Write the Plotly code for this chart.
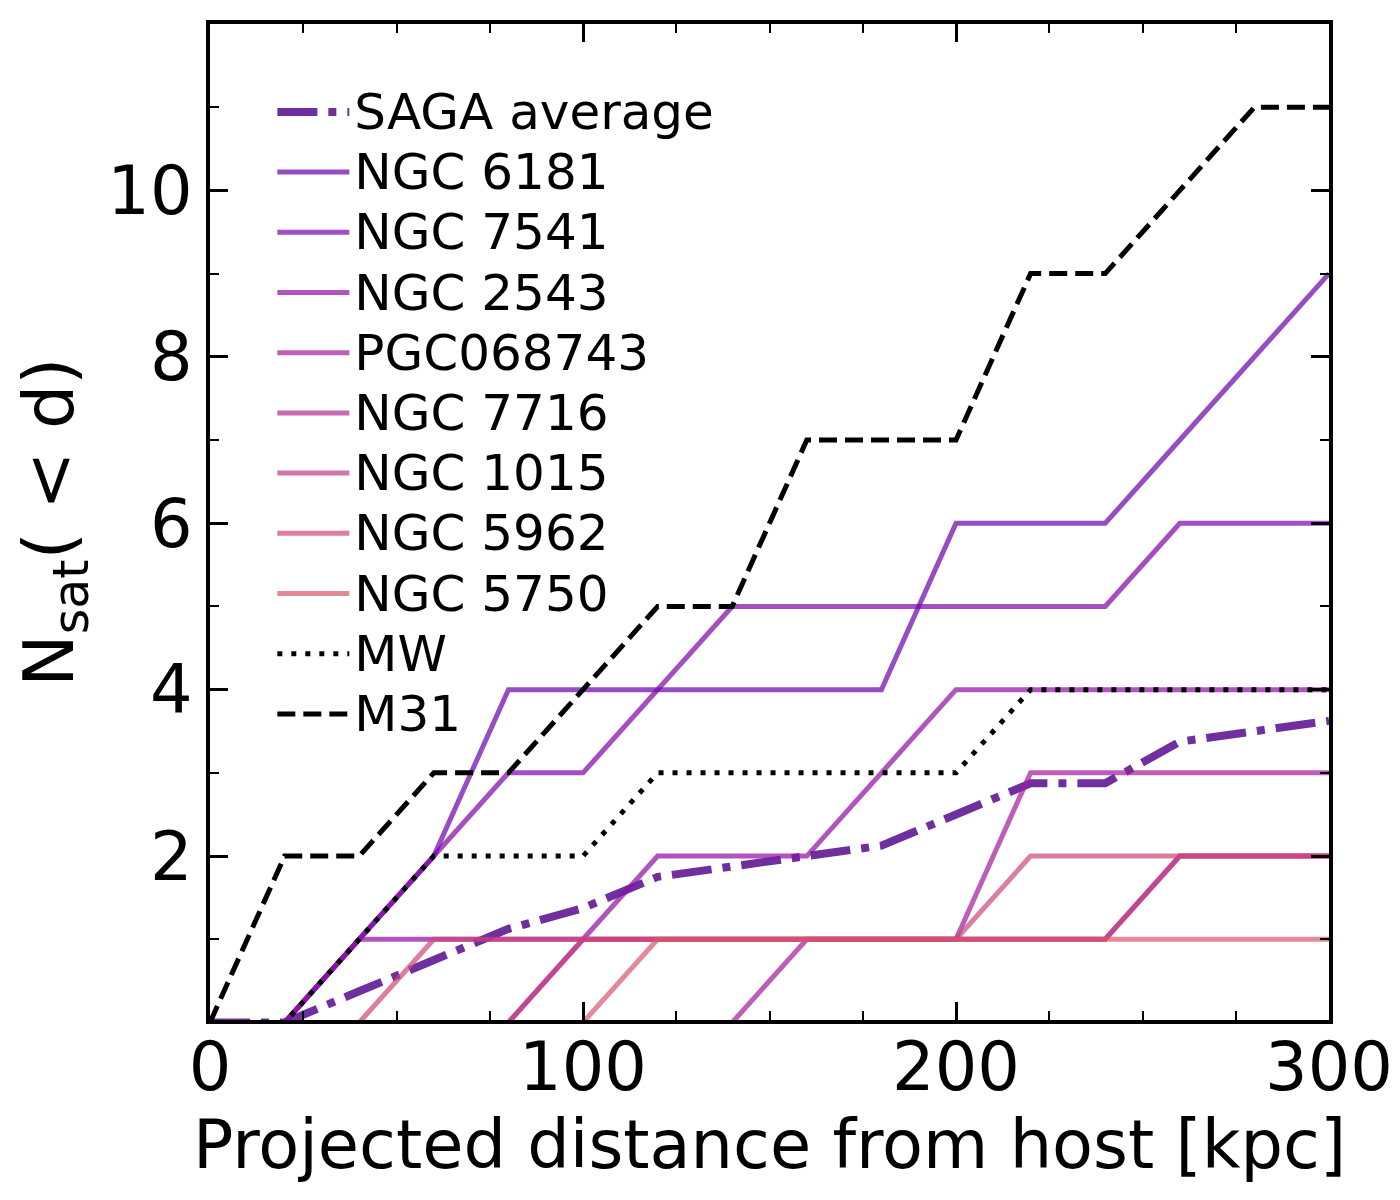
import plotly.graph_objects as go

# projected distance grid [kpc]
distance = [0, 20, 40, 60, 80, 100, 120, 140, 160, 180, 200, 220, 240, 260, 280, 300]

saga_avg = [0, 0, 0.375, 0.75, 1.125, 1.375, 1.75, 1.875, 2.0, 2.125, 2.5, 2.875, 2.875, 3.375, 3.5, 3.625]

hosts = ['NGC 6181', 'NGC 7541', 'NGC 2543', 'PGC068743', 'NGC 7716', 'NGC 1015', 'NGC 5962', 'NGC 5750']
ngc6181 = [0, 0, 1, 2, 4, 4, 4, 4, 4, 4, 6, 6, 6, 7, 8, 9]
ngc7541 = [0, 0, 1, 2, 3, 3, 4, 5, 5, 5, 5, 5, 5, 6, 6, 6]
ngc2543 = [0, 0, 1, 1, 1, 1, 2, 2, 2, 3, 4, 4, 4, 4, 4, 4]
pgc068743 = [0, 0, 0, 0, 0, 0, 0, 0, 1, 1, 1, 3, 3, 3, 3, 3]
ngc7716 = [0, 0, 0, 0, 0, 1, 1, 1, 1, 1, 1, 1, 1, 2, 2, 2]
ngc1015 = [0, 0, 0, 0, 0, 1, 1, 1, 1, 1, 1, 1, 1, 2, 2, 2]
ngc5962 = [0, 0, 0, 1, 1, 1, 1, 1, 1, 1, 1, 2, 2, 2, 2, 2]
ngc5750 = [0, 0, 0, 0, 0, 0, 1, 1, 1, 1, 1, 1, 1, 1, 1, 1]
host_counts = [ngc6181, ngc7541, ngc2543, pgc068743, ngc7716, ngc1015, ngc5962, ngc5750]

mw = [0, 0, 1, 2, 2, 2, 3, 3, 3, 3, 3, 4, 4, 4, 4, 4]
m31 = [0, 2, 2, 3, 3, 4, 5, 5, 7, 7, 7, 9, 9, 10, 11, 11]

# plasma colours, drawn with alpha like the original
host_colors = ['rgba(106,0,168,0.7)', 'rgba(126,3,168,0.7)', 'rgba(143,13,164,0.7)',
               'rgba(161,27,155,0.7)', 'rgba(177,42,144,0.7)', 'rgba(191,57,132,0.7)',
               'rgba(204,71,120,0.7)', 'rgba(216,87,107,0.7)']


def leg(txt):
    # legend text at full size while rows keep the tighter spacing
    return '<span style="font-size:50px">' + txt + '</span>'


fig = go.Figure()

fig.add_trace(go.Scatter(x=distance, y=saga_avg, mode='lines', name=leg('SAGA average'),
                         line=dict(color='#6f2f9e', width=8, dash='40px,11px,8px,11px')))

for name, counts, col in zip(hosts, host_counts, host_colors):
    fig.add_trace(go.Scatter(x=distance, y=counts, mode='lines', name=leg(name),
                             line=dict(color=col, width=5)))

fig.add_trace(go.Scatter(x=distance, y=mw, mode='lines', name=leg('MW'),
                         line=dict(color='black', width=5, dash='5px,9px')))
fig.add_trace(go.Scatter(x=distance, y=m31, mode='lines', name=leg('M31'),
                         line=dict(color='black', width=5, dash='18px,8px')))

axis_common = dict(showline=True, linecolor='black', linewidth=4, mirror='allticks',
                   ticks='inside', ticklen=18, tickwidth=2.5, tickcolor='black',
                   showgrid=False, zeroline=False, automargin=False,
                   tickfont=dict(size=67, color='black'))

fig.update_xaxes(range=[0, 300], tickvals=[0, 100, 200, 300], ticklabelstandoff=-14,
                 minor=dict(ticks='inside', ticklen=9, tickwidth=2, tickcolor='black',
                            tickvals=[25, 50, 75, 125, 150, 175, 225, 250, 275]),
                 title=dict(text='Projected distance from host [kpc]',
                            font=dict(size=67, color='black'), standoff=0),
                 **axis_common)
fig.update_yaxes(range=[0.03, 12], tickvals=[2, 4, 6, 8, 10],
                 minor=dict(ticks='inside', ticklen=9, tickwidth=2, tickcolor='black',
                            tickvals=[1, 3, 5, 7, 9, 11]),
                 title=dict(text='N<sub>sat</sub>( < d)',
                            font=dict(size=70, color='black'), standoff=22),
                 **axis_common)

# page body adds ~8px, so margins are shifted to keep the axes box in place
fig.update_layout(
    width=1400, height=1200,
    margin=dict(l=202, r=79, t=16, b=188),
    plot_bgcolor='white', paper_bgcolor='white',
    font=dict(family='DejaVu Sans', color='black'),
    legend=dict(x=0.0557, y=0.947, xanchor='left', yanchor='top',
                bgcolor='rgba(0,0,0,0)', font=dict(size=44), itemwidth=72,
                tracegroupgap=0),
)

fig.write_html('out.html')
